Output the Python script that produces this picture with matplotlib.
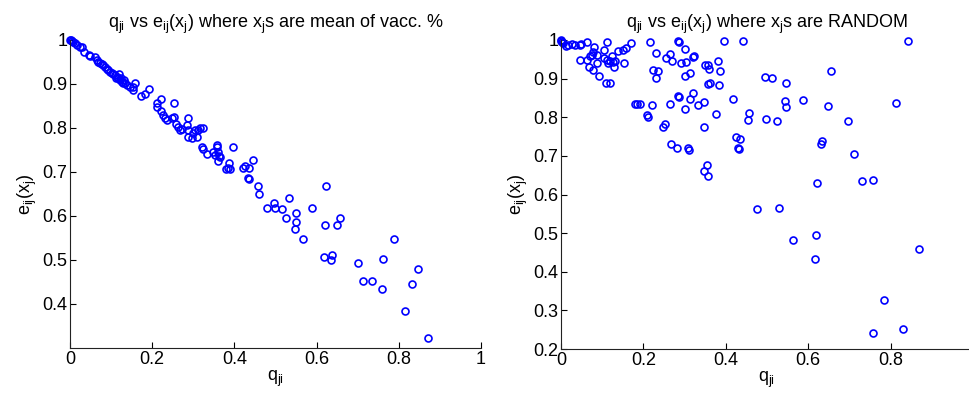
import numpy as np
import matplotlib
matplotlib.use('Agg')
import matplotlib.pyplot as plt

plt.rcParams['font.family'] = ['Liberation Sans', 'DejaVu Sans']
plt.rcParams['mathtext.fontset'] = 'custom'
plt.rcParams['mathtext.rm'] = 'Liberation Sans'
plt.rcParams['mathtext.it'] = 'Liberation Sans'
plt.rcParams['mathtext.default'] = 'regular'

# left panel: x_j = mean of vacc. %
q_mean = [0.000, 0.002, 0.005, 0.007, 0.012, 0.017, 0.024, 0.029, 0.034, 0.046,
          0.049, 0.061, 0.066, 0.068, 0.073, 0.078, 0.080, 0.085, 0.090, 0.092,
          0.097, 0.102, 0.105, 0.109, 0.112, 0.114, 0.117, 0.119, 0.122, 0.124,
          0.127, 0.129, 0.131, 0.134, 0.139, 0.146, 0.153, 0.153, 0.158, 0.173,
          0.182, 0.192, 0.212, 0.212, 0.221, 0.221, 0.226, 0.231, 0.236, 0.248,
          0.253, 0.253, 0.258, 0.263, 0.268, 0.273, 0.285, 0.287, 0.287, 0.287,
          0.297, 0.299, 0.309, 0.304, 0.311, 0.316, 0.324, 0.321, 0.324, 0.333,
          0.348, 0.353, 0.358, 0.358, 0.360, 0.363, 0.365, 0.360, 0.397, 0.380,
          0.384, 0.389, 0.387, 0.421, 0.426, 0.436, 0.445, 0.433, 0.436, 0.457,
          0.460, 0.623, 0.533, 0.479, 0.496, 0.499, 0.516, 0.550, 0.526, 0.589,
          0.550, 0.547, 0.567, 0.620, 0.657, 0.650, 0.788, 0.618, 0.637, 0.635,
          0.701, 0.762, 0.713, 0.735, 0.759, 0.847, 0.832, 0.815, 0.871]
e_mean = [1.000, 1.000, 0.998, 0.995, 0.993, 0.989, 0.984, 0.984, 0.973, 0.966,
          0.964, 0.961, 0.955, 0.950, 0.948, 0.945, 0.943, 0.939, 0.934, 0.932,
          0.927, 0.925, 0.923, 0.920, 0.914, 0.916, 0.914, 0.923, 0.909, 0.914,
          0.905, 0.902, 0.909, 0.902, 0.898, 0.893, 0.893, 0.886, 0.902, 0.873,
          0.877, 0.889, 0.857, 0.848, 0.866, 0.839, 0.830, 0.823, 0.818, 0.823,
          0.857, 0.825, 0.809, 0.802, 0.795, 0.798, 0.807, 0.823, 0.795, 0.780,
          0.777, 0.789, 0.780, 0.795, 0.795, 0.800, 0.800, 0.757, 0.752, 0.741,
          0.745, 0.739, 0.761, 0.757, 0.745, 0.736, 0.734, 0.725, 0.757, 0.707,
          0.709, 0.707, 0.720, 0.709, 0.714, 0.709, 0.727, 0.686, 0.684, 0.668,
          0.650, 0.668, 0.641, 0.618, 0.630, 0.618, 0.616, 0.607, 0.595, 0.618,
          0.586, 0.570, 0.548, 0.580, 0.595, 0.580, 0.548, 0.507, 0.511, 0.500,
          0.493, 0.502, 0.452, 0.452, 0.434, 0.480, 0.445, 0.384, 0.323]

# right panel: x_j random
q_rand = [0.000, 0.000, 0.002, 0.005, 0.012, 0.017, 0.027, 0.034, 0.046, 0.049,
          0.063, 0.080, 0.078, 0.075, 0.070, 0.046, 0.063, 0.087, 0.087, 0.104,
          0.112, 0.104, 0.112, 0.114, 0.124, 0.119, 0.126, 0.129, 0.131, 0.068,
          0.078, 0.092, 0.109, 0.119, 0.138, 0.150, 0.158, 0.170, 0.153, 0.216,
          0.231, 0.223, 0.235, 0.231, 0.180, 0.184, 0.192, 0.221, 0.209, 0.211,
          0.252, 0.248, 0.255, 0.265, 0.269, 0.284, 0.286, 0.301, 0.291, 0.303,
          0.313, 0.301, 0.320, 0.323, 0.265, 0.284, 0.286, 0.313, 0.320, 0.301,
          0.333, 0.347, 0.347, 0.267, 0.282, 0.308, 0.311, 0.350, 0.357, 0.359,
          0.381, 0.386, 0.357, 0.362, 0.383, 0.376, 0.396, 0.442, 0.417, 0.456,
          0.454, 0.425, 0.434, 0.430, 0.432, 0.354, 0.347, 0.357, 0.842, 0.495,
          0.512, 0.546, 0.655, 0.544, 0.546, 0.587, 0.498, 0.524, 0.648, 0.697,
          0.813, 0.633, 0.631, 0.711, 0.621, 0.731, 0.757, 0.476, 0.529, 0.563,
          0.619, 0.617, 0.869, 0.784, 0.757, 0.830]
e_rand = [0.997, 1.000, 0.995, 0.992, 0.984, 0.987, 0.990, 0.987, 0.987, 0.990,
          0.995, 0.982, 0.969, 0.961, 0.959, 0.948, 0.948, 0.961, 0.940, 0.974,
          0.995, 0.953, 0.948, 0.940, 0.959, 0.946, 0.943, 0.930, 0.946, 0.930,
          0.922, 0.907, 0.889, 0.889, 0.972, 0.974, 0.979, 0.992, 0.940, 0.995,
          0.966, 0.922, 0.920, 0.902, 0.834, 0.834, 0.834, 0.832, 0.806, 0.801,
          0.782, 0.775, 0.953, 0.964, 0.946, 0.997, 0.995, 0.977, 0.940, 0.943,
          0.915, 0.907, 0.956, 0.959, 0.834, 0.855, 0.852, 0.847, 0.863, 0.821,
          0.832, 0.839, 0.775, 0.731, 0.720, 0.720, 0.715, 0.935, 0.935, 0.925,
          0.946, 0.920, 0.886, 0.889, 0.883, 0.808, 0.997, 0.997, 0.847, 0.811,
          0.793, 0.749, 0.744, 0.720, 0.718, 0.676, 0.661, 0.648, 0.997, 0.904,
          0.902, 0.889, 0.920, 0.842, 0.826, 0.845, 0.795, 0.790, 0.829, 0.790,
          0.837, 0.738, 0.731, 0.705, 0.630, 0.635, 0.637, 0.562, 0.565, 0.482,
          0.495, 0.433, 0.459, 0.326, 0.241, 0.251]

xticks = [0, 0.2, 0.4, 0.6, 0.8, 1]
xtick_labels = ['0', '0.2', '0.4', '0.6', '0.8', '1']
yticks_left = [0.4, 0.5, 0.6, 0.7, 0.8, 0.9, 1]
yticks_right = [0.2, 0.3, 0.4, 0.5, 0.6, 0.7, 0.8, 0.9, 1]

fig = plt.figure(figsize=(9.7, 3.96), dpi=100)
ax1 = fig.add_axes([70/970, 1-348/396, 411/970, 308/396])
ax2 = fig.add_axes([561/970, 1-349/396, 412/970, 309/396])

def style(ax, yt):
    ax.set_xlim(0, 1)
    ax.set_xticks(xticks)
    ax.set_xticklabels(xtick_labels)
    ax.set_yticks(yt)
    ax.set_yticklabels(['1' if v == 1 else '%g' % v for v in yt])
    ax.spines['top'].set_visible(False)
    ax.spines['right'].set_visible(False)
    for s in ['left', 'bottom']:
        ax.spines[s].set_linewidth(0.8)
        ax.spines[s].set_color('#222222')
    ax.tick_params(direction='in', length=4, width=0.8, labelsize=13, pad=2)
    ax.set_xlabel('q$_{ji}$', fontsize=13, labelpad=1)
    ax.set_ylabel('e$_{ij}$(x$_j$)', fontsize=13, labelpad=2)
    ax.patch.set_alpha(0)

ax1.plot(q_mean, e_mean, 'o', mfc='none', mec='#0000ff', ms=5, mew=1.2, clip_on=False)
style(ax1, yticks_left)
ax1.set_ylim(0.3, 1)
ax1.set_title('q$_{ji}$ vs e$_{ij}$(x$_j$) where x$_j$s are mean of vacc. %', fontsize=13, pad=9)

ax2.plot(q_rand, e_rand, 'o', mfc='none', mec='#0000ff', ms=5, mew=1.2, clip_on=False)
style(ax2, yticks_right)
ax2.set_ylim(0.2, 1)
ax2.set_title('q$_{ji}$ vs e$_{ij}$(x$_j$) where x$_j$s are RANDOM', fontsize=13, pad=9)

fig.savefig('out.png', dpi=100)
